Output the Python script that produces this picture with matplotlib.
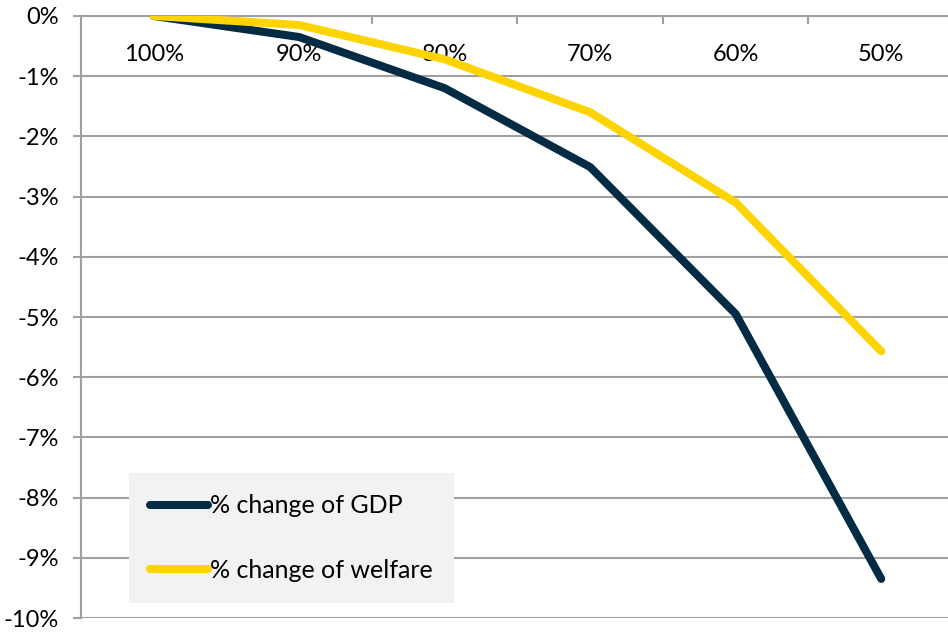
import matplotlib
matplotlib.use("Agg")
import matplotlib.pyplot as plt
from matplotlib.ticker import FuncFormatter

# scenario labels (share of baseline) and results in %
scenarios = ["100%", "90%", "80%", "70%", "60%", "50%"]
gdp_change = [0.0, -0.35, -1.2, -2.51, -4.95, -9.35]
welfare_change = [0.0, -0.15, -0.72, -1.6, -3.1, -5.57]

NAVY = "#032B44"
YELLOW = "#FDD400"
GRID = "#A0A0A0"

plt.rcParams["font.family"] = ["Lato", "DejaVu Sans"]

fig = plt.figure(figsize=(9.48, 6.34), dpi=100)
ax = fig.add_axes([0.0854, 0.0252, 0.9209, 0.9496])

x = range(len(scenarios))
ax.plot(x, gdp_change, color=NAVY, linewidth=5.8, solid_capstyle="round",
        solid_joinstyle="miter", label="% change of GDP", zorder=3)
ax.plot(x, welfare_change, color=YELLOW, linewidth=5.8, solid_capstyle="round",
        solid_joinstyle="miter", label="% change of welfare", zorder=4)

ax.set_xlim(-0.5, len(scenarios) - 0.5)
ax.set_ylim(-10, 0)
ax.set_yticks(range(-10, 1))
ax.yaxis.set_major_formatter(FuncFormatter(lambda v, _: f"{int(round(v))}%"))
ax.grid(axis="y", color=GRID, linewidth=1.5)
ax.set_axisbelow(True)

# category axis sits on the top edge, labels hang just below it
ax.set_xticks(list(x), labels=scenarios)
ax.set_xticks([i + 0.5 for i in range(len(scenarios) - 1)], minor=True)
ax.tick_params(axis="x", which="major", top=True, bottom=False, labeltop=True,
               labelbottom=False, length=0, pad=-35, labelsize=17)
ax.tick_params(axis="x", which="minor", top=True, bottom=False, direction="in",
               length=6, width=1.5, color=GRID)
ax.tick_params(axis="y", length=6, width=1.5, color=GRID, pad=10, labelsize=17)

for side in ["right", "bottom"]:
    ax.spines[side].set_visible(False)
for side in ["left", "top"]:
    ax.spines[side].set_color(GRID)
    ax.spines[side].set_linewidth(1.5)

leg = ax.legend(loc="lower left", bbox_to_anchor=(0.055, 0.025), fontsize=18,
                frameon=True, fancybox=False, facecolor="#F2F2F2", edgecolor="none",
                framealpha=1, handlelength=2.3, handletextpad=0.1,
                labelspacing=1.65, borderpad=0.85, borderaxespad=0)
leg.get_frame().set_linewidth(0)

fig.savefig("out.png", dpi=100)
